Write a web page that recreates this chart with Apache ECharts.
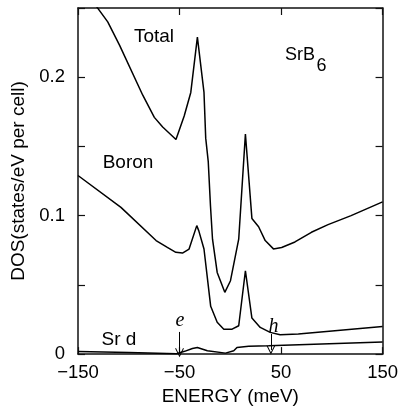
<!DOCTYPE html>
<html><head><meta charset="utf-8">
<script src="https://cdn.jsdelivr.net/npm/echarts@6/dist/echarts.min.js"></script>
<style>html,body{margin:0;padding:0;background:#fff}#c{width:401px;height:411px}</style>
</head><body><div id="c"></div><script>
// ---- data ----
const totalEnergy = [-150, -131.7, -120.7, -109, -86.2, -74.8, -66.6, -53.5, -45.4, -38.9, -32.4, -25.9, -24.2, -21.7, -19.5, -17.5, -12.9, -5.4, 0.2, 8.3, 14.9, 21.3, 27.9, 34.4, 42.5, 50.6, 63.7, 79.9, 96.3, 119, 150];
const totalDOS    = [0.273, 0.251, 0.240, 0.223, 0.187, 0.171, 0.164, 0.155, 0.172, 0.189, 0.229, 0.189, 0.156, 0.139, 0.107, 0.083, 0.059, 0.0446, 0.053, 0.083, 0.159, 0.098, 0.092, 0.082, 0.076, 0.077, 0.081, 0.088, 0.0935, 0.100, 0.110];

const boronEnergy = [-150, -107.7, -73.1, -62, -53.6, -47.1, -40.6, -33, -31, -25.9, -19.3, -12.9, -6.4, 1.8, 8.3, 14.9, 21.3, 29.5, 39.3, 49.1, 67, 150];
const boronDOS    = [0.129, 0.106, 0.082, 0.0771, 0.0735, 0.073, 0.0759, 0.0928, 0.089, 0.0759, 0.0345, 0.023, 0.018, 0.018, 0.0205, 0.0602, 0.026, 0.0193, 0.0157, 0.014, 0.0145, 0.020];

const srdEnergy = [-150, -100, -53, -45, -37.3, -32.4, -22.6, -4.7, 3.4, 6.6, 18.1, 37.6, 150];
const srdDOS    = [0.0018, 0.0012, 0.0003, 0.002, 0.0041, 0.0048, 0.0024, 0.0007, 0.0024, 0.0048, 0.0056, 0.006, 0.0087];

const xTicks = [-150, -50, 50, 150];
const yLabelValues = [0, 0.1, 0.2];

// arrows: [energy, start DOS, end DOS]
const arrowE = [-50, 0.016, 0.0009];
const arrowH = [40, 0.0145, 0.003];

// ---- build ----
const zip = (xs, ys) => xs.map((x, i) => [x, ys[i]]);
const FONT = "'Liberation Sans', Arial, Helvetica, sans-serif";
const SERIF = "'Liberation Serif', 'Times New Roman', serif";
const AX = '#111';
const chevron = 'path://M0,10 L5,0 L10,10 L8.8,10 L5,2.4 L1.2,10 Z';

const chart = echarts.init(document.getElementById('c'), null, {renderer: 'canvas'});

const lineBase = {type: 'line', showSymbol: false, symbol: 'none', smooth: false, clip: true,
  lineStyle: {color: '#000', width: 1.5}, animation: false, silent: true};

const xAxisCommon = {type: 'value', min: -150, max: 150, interval: 50,
  axisLine: {show: true, onZero: false, lineStyle: {color: AX, width: 1.5}},
  axisTick: {show: true, inside: true, length: 7, customValues: xTicks, lineStyle: {color: AX, width: 1.2}},
  splitLine: {show: false}};
const yAxisCommon = {type: 'value', min: 0, max: 0.25, interval: 0.05,
  axisLine: {show: true, onZero: false, lineStyle: {color: AX, width: 1.5}},
  axisTick: {show: true, inside: true, length: 7, lineStyle: {color: AX, width: 1.2}},
  splitLine: {show: false}};

chart.setOption({
  animation: false,
  backgroundColor: '#fff',
  grid: {left: 78, right: 16, top: 8, bottom: 56, containLabel: false},
  xAxis: [
    Object.assign({}, xAxisCommon, {position: 'bottom',
      name: 'ENERGY (meV)', nameLocation: 'middle', nameGap: 32,
      nameTextStyle: {fontFamily: FONT, fontSize: 19, color: '#000'},
      axisLabel: {show: true, margin: 9, fontFamily: FONT, fontSize: 18.5, color: '#000',
        customValues: xTicks,
        formatter: v => (xTicks.indexOf(v) >= 0 ? String(v).replace('-', '\u2212') : '')}}),
    Object.assign({}, xAxisCommon, {position: 'top', axisLabel: {show: false}})
  ],
  yAxis: [
    Object.assign({}, yAxisCommon, {position: 'left',
      name: 'DOS(states/eV per cell)', nameLocation: 'middle', nameGap: 50,
      nameTextStyle: {fontFamily: FONT, fontSize: 19, color: '#000'},
      axisLabel: {show: true, margin: 13, fontFamily: FONT, fontSize: 18.5, color: '#000',
        formatter: v => {
          const hit = yLabelValues.find(t => Math.abs(t - v) < 1e-9);
          return hit === undefined ? '' : (hit === 0 ? '0' : String(hit));
        }}}),
    Object.assign({}, yAxisCommon, {position: 'right', axisLabel: {show: false}})
  ],
  series: [
    Object.assign({}, lineBase, {name: 'Total', data: zip(totalEnergy, totalDOS)}),
    Object.assign({}, lineBase, {name: 'Boron', data: zip(boronEnergy, boronDOS)}),
    Object.assign({}, lineBase, {name: 'Sr d', data: zip(srdEnergy, srdDOS),
      markLine: {silent: true, animation: false, symbol: ['none', chevron], symbolSize: [9, 9],
        lineStyle: {color: '#000', width: 1, type: 'solid'}, label: {show: false},
        emphasis: {disabled: true},
        data: [
          [{coord: [arrowE[0], arrowE[1]]}, {coord: [arrowE[0], arrowE[2]]}],
          [{coord: [arrowH[0], arrowH[1]]}, {coord: [arrowH[0], arrowH[2]]}]
        ]}})
  ],
  graphic: [
    {type: 'text', left: null, x: 154, y: 36.5, style: {text: 'Total', font: '19px ' + FONT, fill: '#000', textAlign: 'center', textVerticalAlign: 'middle'}},
    {type: 'text', x: 128, y: 163, style: {text: 'Boron', font: '19px ' + FONT, fill: '#000', textAlign: 'center', textVerticalAlign: 'middle'}},
    {type: 'text', x: 119, y: 340, style: {text: 'Sr d', font: '19px ' + FONT, fill: '#000', textAlign: 'center', textVerticalAlign: 'middle'}},
    {type: 'text', x: 285, y: 55, style: {text: 'SrB', font: '18px ' + FONT, fill: '#000', textAlign: 'left', textVerticalAlign: 'middle'}},
    {type: 'text', x: 316.5, y: 66.5, style: {text: '6', font: '18px ' + FONT, fill: '#000', textAlign: 'left', textVerticalAlign: 'middle'}},
    {type: 'text', x: 180, y: 320.5, style: {text: 'e', font: 'italic 20px ' + SERIF, fill: '#000', textAlign: 'center', textVerticalAlign: 'middle'}},
    {type: 'text', x: 273.5, y: 326.5, style: {text: 'h', font: 'italic 20px ' + SERIF, fill: '#000', textAlign: 'center', textVerticalAlign: 'middle'}}
  ]
});
</script></body></html>
